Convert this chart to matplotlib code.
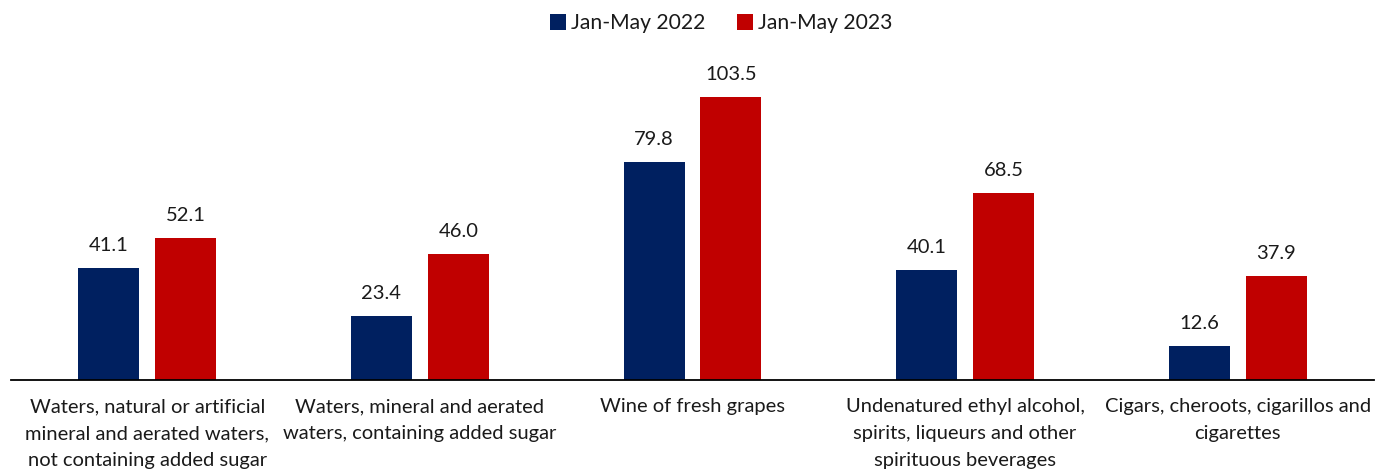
import matplotlib
matplotlib.use("Agg")
import matplotlib.pyplot as plt
import numpy as np

categories = [
    "Waters, natural or artificial\nmineral and aerated waters,\nnot containing added sugar",
    "Waters, mineral and aerated\nwaters, containing added sugar",
    "Wine of fresh grapes",
    "Undenatured ethyl alcohol,\nspirits, liqueurs and other\nspirituous beverages",
    "Cigars, cheroots, cigarillos and\ncigarettes",
]
series_names = ["Jan-May 2022", "Jan-May 2023"]
values_2022 = [41.1, 23.4, 79.8, 40.1, 12.6]
values_2023 = [52.1, 46.0, 103.5, 68.5, 37.9]
colors = ["#002060", "#C00000"]

plt.rcParams['font.family'] = ['Lato', 'DejaVu Sans']

W, H = 1379, 470
fig = plt.figure(figsize=(W/100, H/100), dpi=100)
ax = fig.add_axes([11/W, 90/H, 1363/W, 320/H])

x = np.arange(len(categories))
bw = 0.224
off = 0.141
for vals, sign, col, name in [(values_2022, -1, colors[0], series_names[0]),
                               (values_2023, 1, colors[1], series_names[1])]:
    bars = ax.bar(x + sign*off, vals, width=bw, color=col, label=name)
    for b, v in zip(bars, vals):
        ax.annotate(f"{v:.1f}", (b.get_x() + b.get_width()/2, v),
                    xytext=(0, 14), textcoords='offset pixels',
                    ha='center', va='bottom', fontsize=14.5, color='#1a1a1a')

ax.set_xlim(-0.5, 4.5)
ax.set_ylim(0, 320/2.734)
ax.set_yticks([])
ax.set_xticks(x)
ax.set_xticklabels(categories, fontsize=14.5, color='#1a1a1a', linespacing=1.72)
ax.tick_params(axis='x', length=0, pad=13)
for s in ['top', 'right', 'left']:
    ax.spines[s].set_visible(False)
ax.spines['bottom'].set_color('black')
ax.spines['bottom'].set_linewidth(1.3)

leg = fig.legend(loc='upper center', bbox_to_anchor=(0.523, 1.012), ncol=2, frameon=False,
                 fontsize=15.2, handlelength=0.75, handleheight=0.75, handletextpad=0.25,
                 columnspacing=1.5, labelcolor='#1a1a1a')

fig.savefig("out.png", dpi=100)
